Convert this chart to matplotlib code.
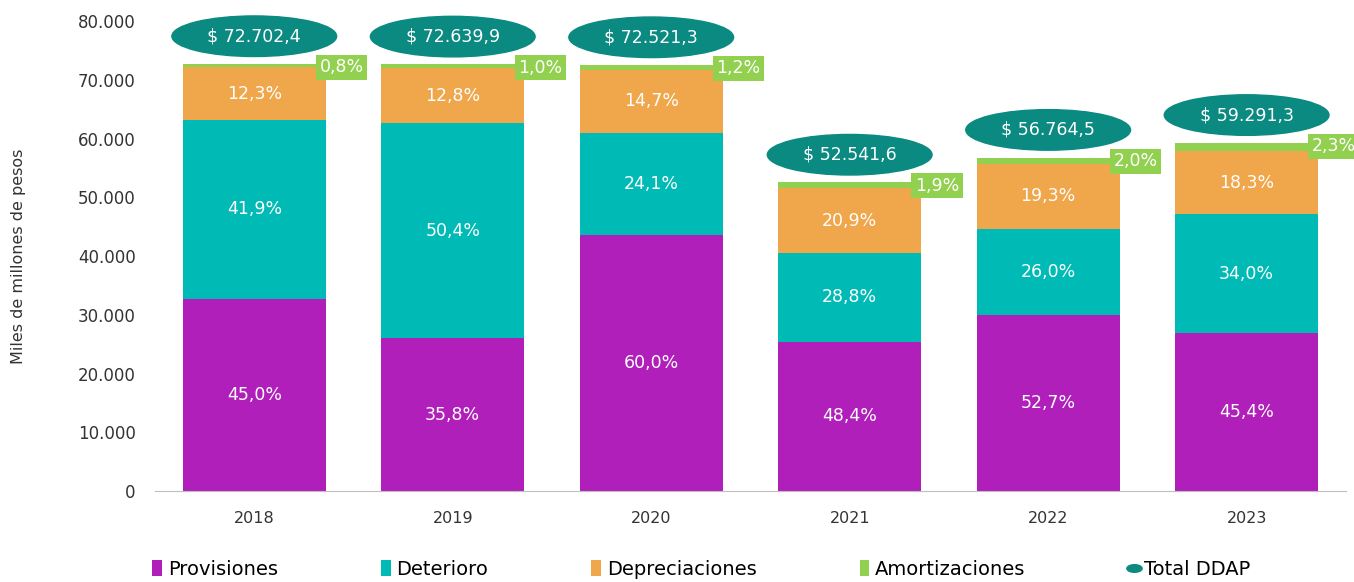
import matplotlib
matplotlib.use("Agg")
import matplotlib.pyplot as plt
from matplotlib.patches import Ellipse, Patch
from matplotlib.lines import Line2D
from matplotlib.path import Path
from matplotlib.transforms import Affine2D
import numpy as np

years = ["2018", "2019", "2020", "2021", "2022", "2023"]
totals = [72702.4, 72639.9, 72521.3, 52541.6, 56764.5, 59291.3]
pct_provisiones = [45.0, 35.8, 60.0, 48.4, 52.7, 45.4]
pct_deterioro = [41.9, 50.4, 24.1, 28.8, 26.0, 34.0]
pct_depreciaciones = [12.3, 12.8, 14.7, 20.9, 19.3, 18.3]
pct_amortizaciones = [0.8, 1.0, 1.2, 1.9, 2.0, 2.3]

series_names = ["Provisiones", "Deterioro", "Depreciaciones", "Amortizaciones"]
colors = ["#B11FBB", "#00BBB5", "#F0A64B", "#92D050"]
total_color = "#0A8A80"


def fmt_num(v, dec=0):
    s = f"{v:,.{dec}f}"
    return s.replace(",", "X").replace(".", ",").replace("X", ".")


fig = plt.figure(figsize=(13.54, 5.82), dpi=100)
ax = fig.add_axes([0.1145, 0.156, 0.8795, 0.808])

x = np.arange(len(years))
totals = np.array(totals)
pcts = [np.array(p) for p in (pct_provisiones, pct_deterioro,
                              pct_depreciaciones, pct_amortizaciones)]
bottom = np.zeros(len(years))
for i, (p, c) in enumerate(zip(pcts, colors)):
    vals = totals * p / 100
    ax.bar(x, vals, 0.72, bottom=bottom, color=c, zorder=2)
    for j in range(len(years)):
        lbl = fmt_num(p[j], 1) + "%"
        if i < 3:
            ax.text(x[j], bottom[j] + vals[j] / 2, lbl, ha="center", va="center",
                    color="white", fontsize=12.5)
        else:
            # amortizaciones: small green box beside the top of the bar
            ax.text(x[j] + 0.44, totals[j] - 600, lbl, ha="center", va="center",
                    color="white", fontsize=12.5, zorder=4,
                    bbox=dict(boxstyle="square,pad=0.2", fc=c, ec="none"))
    bottom += vals

# total ellipses
for j in range(len(years)):
    yc = totals[j] + 4700
    ax.add_patch(Ellipse((x[j], yc), 0.83, 6900, color=total_color,
                         zorder=3, clip_on=False))
    ax.text(x[j], yc, "$ " + fmt_num(totals[j], 1), ha="center", va="center",
            color="white", fontsize=12.5, zorder=4)

ax.set_xlim(-0.5, 5.5)
ax.set_ylim(0, 80000)
ax.set_xticks(x)
ax.set_xticklabels(years, fontsize=11.5)
ax.set_yticks(np.arange(0, 80001, 10000))
ax.set_yticklabels([fmt_num(v) for v in np.arange(0, 80001, 10000)], fontsize=12)
ax.tick_params(axis="both", length=0, colors="#333333")
ax.tick_params(axis="x", pad=14)
ax.tick_params(axis="y", pad=14)
for s in ["top", "right", "left"]:
    ax.spines[s].set_visible(False)
ax.spines["bottom"].set_color("#BFBFBF")
ax.set_ylabel("Miles de millones de pesos", fontsize=11.5, color="#333333")
ax.yaxis.set_label_coords(-0.108, 0.5)

ell_marker = Path.unit_circle().transformed(Affine2D().scale(2.0, 1.0))
handles = [Patch(facecolor=c, edgecolor="none") for c in colors]
handles.append(Line2D([], [], marker=ell_marker, color=total_color,
                      linestyle="none", markersize=11))
fig.legend(handles, series_names + ["Total DDAP"], loc="lower center",
           bbox_to_anchor=(0.518, -0.025), ncol=5, frameon=False, fontsize=14,
           handlelength=0.5, handleheight=0.9, handletextpad=0.3,
           columnspacing=5.3)

fig.savefig("out.png", dpi=100)
